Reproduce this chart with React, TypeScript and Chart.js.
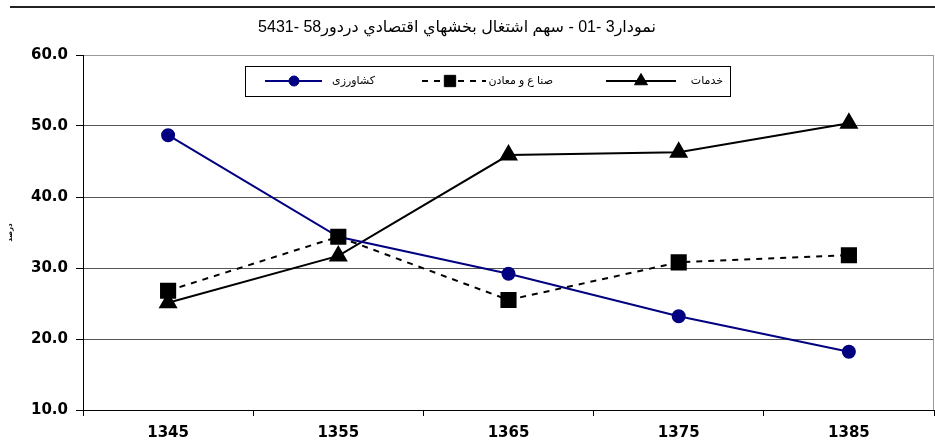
import React, { useEffect, useRef } from 'react';
import { Chart, registerables } from 'chart.js';
import { drawPoint } from 'chart.js/helpers';

Chart.register(...registerables);

const categories = ['1345', '1355', '1365', '1375', '1385'];
const agricultureValues = [48.7, 34.4, 29.2, 23.2, 18.2];
const industryValues = [26.8, 34.4, 25.5, 30.8, 31.8];
const servicesValues = [25.1, 31.7, 45.9, 46.3, 50.4];
const seriesNames = ['کشاورزی', 'صنا ع و معادن', 'خدمات'];
const chartTitle = 'نمودار3 -01 - سهم اشتغال بخشهاي اقتصادي دردور58 -5431';
const yAxisTitle = 'درصد';
const yMin = 10;
const yMax = 60;
const yStep = 10;

// legend layout: dataset index, text right edge, line start, line end, marker x
const legendLayout = [
  { ds: 2, textRight: 723, lineStart: 606, lineEnd: 676, marker: 641 },
  { ds: 1, textRight: 553, lineStart: 422, lineEnd: 486, marker: 450 },
  { ds: 0, textRight: 375, lineStart: 265, lineEnd: 322, marker: 294 },
];

const decorPlugin = {
  id: 'decor',
  beforeDraw(chart: any) {
    const ctx = chart.ctx;
    ctx.save();
    ctx.fillStyle = '#fff';
    ctx.fillRect(0, 0, chart.width, chart.height);
    ctx.restore();
  },
  afterDraw(chart: any) {
    const ctx = chart.ctx;
    const area = chart.chartArea;
    ctx.save();
    // top rule
    ctx.strokeStyle = '#222';
    ctx.lineWidth = 2;
    ctx.beginPath();
    ctx.moveTo(10, 7);
    ctx.lineTo(chart.width, 7);
    ctx.stroke();
    // right border of plot
    ctx.strokeStyle = '#999';
    ctx.lineWidth = 1;
    ctx.beginPath();
    ctx.moveTo(area.right - 0.5, area.top);
    ctx.lineTo(area.right - 0.5, area.bottom);
    ctx.stroke();
    // title
    ctx.fillStyle = '#000';
    ctx.font = '16px "Liberation Sans", "DejaVu Sans", sans-serif';
    ctx.textAlign = 'center';
    ctx.textBaseline = 'middle';
    (ctx as any).direction = 'rtl';
    ctx.fillText(chartTitle, 457, 28);
    // legend box
    ctx.fillStyle = '#fff';
    ctx.fillRect(245.5, 66.5, 485, 30);
    ctx.strokeStyle = '#000';
    ctx.lineWidth = 1;
    ctx.strokeRect(245.5, 66.5, 485, 30);
    const cy = 81;
    legendLayout.forEach((item) => {
      const ds: any = chart.data.datasets[item.ds];
      ctx.save();
      ctx.strokeStyle = ds.borderColor;
      ctx.lineWidth = ds.borderWidth;
      ctx.setLineDash(ds.borderDash || []);
      ctx.beginPath();
      ctx.moveTo(item.lineStart, cy);
      ctx.lineTo(item.lineEnd, cy);
      ctx.stroke();
      ctx.setLineDash([]);
      ctx.fillStyle = ds.pointBackgroundColor;
      ctx.strokeStyle = ds.pointBorderColor;
      ctx.lineWidth = 1;
      drawPoint(ctx, { pointStyle: ds.pointStyle, rotation: 0, borderWidth: 1, radius: ds.legendRadius }, item.marker, cy);
      ctx.restore();
      ctx.fillStyle = '#000';
      ctx.font = '11px "Liberation Sans", "DejaVu Sans", sans-serif';
      (ctx as any).direction = 'rtl';
      ctx.textAlign = 'right';
      ctx.textBaseline = 'middle';
      ctx.fillText(seriesNames[item.ds], item.textRight, cy);
    });
    ctx.restore();
  },
};

export default function App() {
  const ref = useRef<HTMLCanvasElement | null>(null);
  useEffect(() => {
    document.body.style.margin = '0';
    const canvas = ref.current;
    if (!canvas) return;
    const tickFont = { family: '"DejaVu Sans", sans-serif', size: 15, weight: 'bold' as const };
    const chart = new Chart(canvas, {
      type: 'line',
      data: {
        labels: categories,
        datasets: [
          {
            label: seriesNames[0],
            data: agricultureValues,
            borderColor: '#000080',
            backgroundColor: '#000080',
            pointBackgroundColor: '#000080',
            pointBorderColor: '#000080',
            borderWidth: 2,
            pointStyle: 'circle',
            pointRadius: 6,
            legendRadius: 5,
            order: 1,
          } as any,
          {
            label: seriesNames[1],
            data: industryValues,
            borderColor: '#000',
            backgroundColor: '#000',
            pointBackgroundColor: '#000',
            pointBorderColor: '#000',
            borderWidth: 2,
            borderDash: [6, 6],
            pointStyle: 'rect',
            pointRadius: 10,
            legendRadius: 8,
            order: 0,
          } as any,
          {
            label: seriesNames[2],
            data: servicesValues,
            borderColor: '#000',
            backgroundColor: '#000',
            pointBackgroundColor: '#000',
            pointBorderColor: '#000',
            borderWidth: 2,
            pointStyle: 'triangle',
            pointRadius: 9,
            legendRadius: 7.5,
            order: 2,
          } as any,
        ],
      },
      options: {
        responsive: false,
        animation: false,
        devicePixelRatio: 1,
        layout: { autoPadding: false, padding: { top: 55, right: 1, bottom: 0, left: 0 } },
        plugins: {
          legend: { display: false },
          title: { display: false },
          tooltip: { enabled: false },
        },
        scales: {
          x: {
            type: 'category',
            offset: true,
            grid: {
              offset: true,
              drawOnChartArea: false,
              drawTicks: true,
              tickLength: 6,
              tickColor: '#000',
            },
            border: { color: '#000', width: 1 },
            ticks: {
              color: '#000',
              font: tickFont,
              padding: 8,
              maxRotation: 0,
            },
            afterFit: (s: any) => {
              s.height = 38;
              s.paddingRight = 0;
              s.paddingLeft = 0;
            },
          },
          y: {
            min: yMin,
            max: yMax,
            ticks: {
              stepSize: yStep,
              color: '#000',
              font: tickFont,
              padding: 8,
              callback: (v: any) => Number(v).toFixed(1),
            },
            grid: {
              color: (c: any) => (c.tick && c.tick.value === yMax ? '#999' : '#555'),
              tickColor: '#000',
              tickLength: 7,
              lineWidth: 1,
            },
            border: { color: '#000', width: 1 },
            title: {
              display: true,
              text: yAxisTitle,
              color: '#000',
              font: { family: '"DejaVu Sans", sans-serif', size: 7, weight: 'bold' },
              padding: { top: 6, bottom: 0 },
            },
            afterFit: (s: any) => {
              s.width = 83;
            },
          },
        },
      },
      plugins: [decorPlugin],
    });
    return () => chart.destroy();
  }, []);
  return <canvas ref={ref} width={935} height={448} style={{ display: 'block', width: 935, height: 448 }} />;
}
